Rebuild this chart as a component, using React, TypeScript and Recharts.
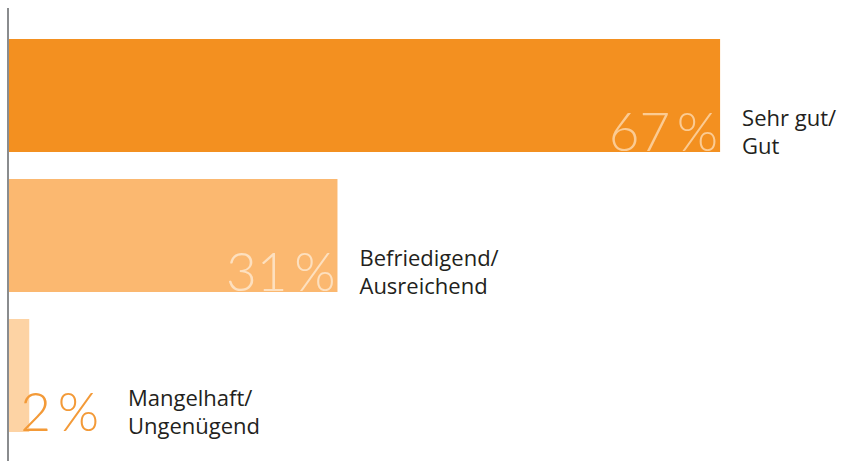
import { BarChart, Bar, XAxis, YAxis, Cell, LabelList } from "recharts";

const categories = ["Sehr gut/|Gut", "Befriedigend/|Ausreichend", "Mangelhaft/|Ungenügend"];
const shares = [67, 31, 2];
const barColors = ["#F39020", "#FBB870", "#FDD3A4"];
const pctColors = ["#FBCB93", "#FDE0BF", "#F39A38"];

const chartData = categories.map((name, i) => ({ name, value: shares[i] }));

const BarLabel = (props: any) => {
  const { x, y, width, height, index } = props;
  const barEnd = x + width;
  const textEnd = Math.max(barEnd - 2, x + 91);
  const bottom = y + height;
  const [l1, l2] = categories[index].split("|");
  const lx = textEnd + (width < 90 ? 29 : 24);
  return (
    <g>
      <text
        x={textEnd}
        y={bottom - 1}
        textAnchor="end"
        fill={pctColors[index]}
        style={{ fontFamily: "Lato", fontWeight: 300, fontSize: 53 }}
      >
        {shares[index] + "\u2009%"}
      </text>
      <text x={lx} fill="#231F20" style={{ fontFamily: "Open Sans", fontSize: 22 }}>
        <tspan x={lx} y={bottom - 26}>{l1}</tspan>
        <tspan x={lx} y={bottom + 2}>{l2}</tspan>
      </text>
    </g>
  );
};

const App = () => {
  return (
    <div style={{ position: "absolute", left: 0, top: 0, background: "#fff" }}>
      <BarChart
        width={842}
        height={461}
        data={chartData}
        layout="vertical"
        margin={{ top: 8, right: 5, left: 0, bottom: 0 }}
        barCategoryGap={13.5}
      >
        <XAxis type="number" domain={[0, 78]} hide />
        <YAxis
          type="category"
          dataKey="name"
          width={8}
          tick={false}
          tickLine={false}
          axisLine={{ stroke: "#8A8C8E", strokeWidth: 2 }}
          padding={{ top: 17.5, bottom: 15.5 }}
        />
        <Bar dataKey="value" isAnimationActive={false}>
          {chartData.map((d, i) => (
            <Cell key={d.name} fill={barColors[i]} />
          ))}
          <LabelList dataKey="value" content={<BarLabel />} />
        </Bar>
      </BarChart>
    </div>
  );
};

export default App;
